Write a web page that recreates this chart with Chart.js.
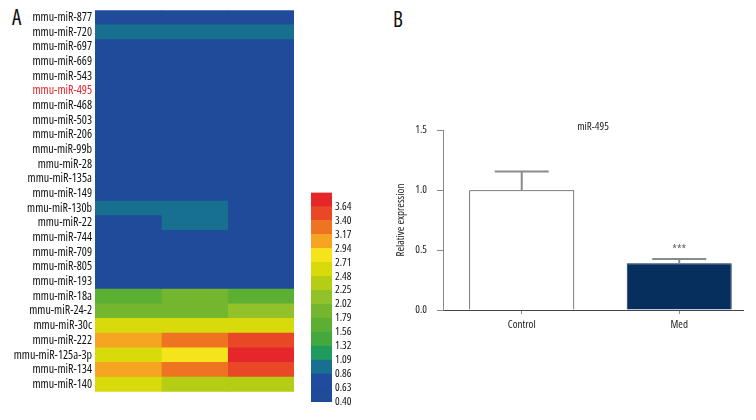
<!DOCTYPE html>
<html>
<head>
<meta charset="utf-8">
<script src="https://cdn.jsdelivr.net/npm/chart.js@4.4.1/dist/chart.umd.min.js"></script>
<style>
  html, body { margin: 0; padding: 0; background: #fff; overflow: hidden; }
  body { width: 756px; height: 420px; position: relative; font-family: 'Open Sans', sans-serif; font-stretch: condensed; }
  .panel { position: absolute; font-size: 21px; color: #111; }
  canvas { position: absolute; }
</style>
</head>
<body>
<div class="panel" style="left:12px; top:3px;">A</div>
<div class="panel" style="left:393px; top:5px;">B</div>
<canvas id="heat" width="294" height="402" style="left:0; top:0;"></canvas>
<canvas id="scale" width="60" height="229" style="left:311px; top:183px;"></canvas>
<canvas id="bars" width="376" height="240" style="left:380px; top:100px;"></canvas>
<script>
// heatmap rows (top to bottom)
const mirNames = ['mmu-miR-877', 'mmu-miR-720', 'mmu-miR-697', 'mmu-miR-669', 'mmu-miR-543',
  'mmu-miR-495', 'mmu-miR-468', 'mmu-miR-503', 'mmu-miR-206', 'mmu-miR-99b', 'mmu-miR-28',
  'mmu-miR-135a', 'mmu-miR-149', 'mmu-miR-130b', 'mmu-miR-22', 'mmu-miR-744', 'mmu-miR-709',
  'mmu-miR-805', 'mmu-miR-193', 'mmu-miR-18a', 'mmu-miR-24-2', 'mmu-miR-30c', 'mmu-miR-222',
  'mmu-miR-125a-3p', 'mmu-miR-134', 'mmu-miR-140'];
const highlightMir = 'mmu-miR-495';

// expression per sample column
const sample1 = [0.50, 0.95, 0.50, 0.50, 0.50, 0.50, 0.50, 0.50, 0.50, 0.55, 0.50, 0.50, 0.50,
  0.95, 0.50, 0.50, 0.50, 0.50, 0.50, 1.65, 1.85, 2.55, 3.00, 2.55, 3.00, 2.55];
const sample2 = [0.50, 0.95, 0.50, 0.50, 0.50, 0.50, 0.50, 0.50, 0.50, 0.50, 0.50, 0.50, 0.50,
  0.95, 0.95, 0.50, 0.50, 0.50, 0.50, 1.85, 1.85, 2.55, 3.25, 2.80, 3.25, 2.35];
const sample3 = [0.50, 0.95, 0.50, 0.50, 0.50, 0.50, 0.50, 0.50, 0.55, 0.50, 0.50, 0.50, 0.50,
  0.50, 0.50, 0.50, 0.50, 0.55, 0.50, 1.65, 2.10, 2.55, 3.50, 3.70, 3.50, 2.35];

// colour key, bottom to top
const keyLabels = ['0.40', '0.63', '0.86', '1.09', '1.32', '1.56', '1.79', '2.02', '2.25',
  '2.48', '2.71', '2.94', '3.17', '3.40', '3.64'];
const keyColors = ['#204a9a', '#1f4c9c', '#17708f', '#209b5e', '#44a83c', '#5bb034', '#74b72f',
  '#92c22a', '#b5cd14', '#d8da0c', '#f6e41a', '#f5a521', '#ee7421', '#ea4726', '#e5262a'];

// panel B
const groups = ['Control', 'Med'];
const relExpr = [1.00, 0.39];
const relSem = [0.155, 0.035];
const sigMarks = ['', '***'];

function colorFor(v) {
    var idx = 0;
    for (var i = 0; i < keyLabels.length; i++) {
        if (v >= parseFloat(keyLabels[i])) idx = i;
    }
    return keyColors[idx];
}

// 'condensed' goes in the weight slot so the canvas picks the condensed Open Sans face
Chart.defaults.font.family = "'Open Sans', sans-serif";
Chart.defaults.font.weight = 'condensed';
Chart.defaults.color = '#222';
Chart.defaults.animation = false;

// --- heatmap ---
new Chart(document.getElementById('heat'), {
    type: 'bar',
    data: {
        labels: mirNames,
        datasets: [sample1, sample2, sample3].map(col => ({
            data: col.map(() => 1),
            backgroundColor: col.map(colorFor),
            borderWidth: 0,
            barPercentage: 1,
            categoryPercentage: 1
        }))
    },
    options: {
        responsive: false,
        indexAxis: 'y',
        layout: { padding: { top: 10 } },
        plugins: { legend: { display: false }, tooltip: { enabled: false } },
        scales: {
            x: { display: false, stacked: true, min: 0, max: 3 },
            y: {
                stacked: true,
                grid: { display: false, drawTicks: false },
                border: { display: false },
                ticks: {
                    padding: 3,
                    autoSkip: false,
                    font: { size: 12 },
                    color: ctx => mirNames[ctx.index] === highlightMir ? '#e0262b' : '#111'
                },
                afterFit: scale => { scale.width = 95; }
            }
        }
    }
});

// --- colour key ---
new Chart(document.getElementById('scale'), {
    type: 'bar',
    data: {
        labels: [''],
        datasets: keyColors.map(c => ({
            data: [1],
            backgroundColor: c,
            borderWidth: 0,
            barPercentage: 1,
            categoryPercentage: 1
        }))
    },
    options: {
        responsive: false,
        layout: { padding: { top: 6, bottom: 10 } },
        plugins: { legend: { display: false }, tooltip: { enabled: false } },
        scales: {
            x: { display: false, stacked: true },
            y: {
                position: 'right',
                stacked: true,
                min: 0,
                max: keyLabels.length,
                grid: { display: false, drawTicks: false },
                border: { display: false },
                afterBuildTicks: scale => {
                    scale.ticks = keyLabels.map((_, i) => ({ value: i }));
                },
                ticks: {
                    padding: 3,
                    autoSkip: false,
                    font: { size: 11 },
                    color: '#111',
                    callback: v => keyLabels[v]
                },
                afterFit: scale => { scale.width = 39; }
            }
        }
    }
});

// --- relative expression bars ---
const errorBars = {
    id: 'errorBars',
    afterDatasetsDraw(chart) {
        const ctx = chart.ctx;
        const y = chart.scales.y;
        const meta = chart.getDatasetMeta(0);
        ctx.save();
        meta.data.forEach((bar, i) => {
            const top = y.getPixelForValue(relExpr[i]);
            const tip = y.getPixelForValue(relExpr[i] + relSem[i]);
            ctx.strokeStyle = '#8a8a8a';
            ctx.lineWidth = 2;
            ctx.beginPath();
            ctx.moveTo(bar.x, top);
            ctx.lineTo(bar.x, tip);
            ctx.moveTo(bar.x - 27, tip);
            ctx.lineTo(bar.x + 27, tip);
            ctx.stroke();
            if (sigMarks[i]) {
                ctx.fillStyle = '#666';
                ctx.font = "condensed 12px 'Open Sans', sans-serif";
                ctx.textAlign = 'center';
                ctx.textBaseline = 'middle';
                ctx.fillText(sigMarks[i], bar.x, tip - 8);
            }
        });
        ctx.restore();
    }
};

new Chart(document.getElementById('bars'), {
    type: 'bar',
    data: {
        datasets: [{
            data: groups.map((g, i) => ({ x: i + 0.5, y: relExpr[i] })),
            backgroundColor: ['#ffffff', '#072f5e'],
            borderColor: ['#333333', '#072f5e'],
            borderWidth: 1,
            borderSkipped: 'bottom',
            barPercentage: 0.667,
            categoryPercentage: 1
        }]
    },
    options: {
        responsive: false,
        layout: { padding: { left: 14, right: 13 } },
        plugins: {
            legend: { display: false },
            tooltip: { enabled: false },
            title: {
                display: true,
                fullSize: false,
                text: 'miR-495',
                color: '#222',
                font: { size: 11, weight: 'condensed' },
                padding: { top: 20, bottom: -3 }
            }
        },
        scales: {
            x: {
                type: 'linear',
                offset: false,
                min: 0,
                max: 1.905,
                grid: { offset: false, drawOnChartArea: false, tickLength: 4, color: '#888' },
                border: { color: '#444' },
                afterBuildTicks: scale => {
                    scale.ticks = groups.map((_, i) => ({ value: i + 0.5 }));
                },
                ticks: {
                    padding: 4,
                    font: { size: 11 },
                    color: '#222',
                    callback: v => groups[Math.round(v - 0.5)]
                },
                afterFit: scale => { scale.height = 30; }
            },
            y: {
                min: 0,
                max: 1.5,
                grid: { drawOnChartArea: false, tickLength: 6, color: '#888' },
                border: { color: '#888' },
                ticks: {
                    stepSize: 0.5,
                    padding: 10,
                    font: { size: 11 },
                    color: '#222',
                    callback: v => v.toFixed(1)
                },
                title: {
                    display: true,
                    text: 'Relative expression',
                    color: '#222',
                    font: { size: 11 },
                    padding: 0
                },
                afterFit: scale => { scale.width = 49; }
            }
        }
    },
    plugins: [errorBars]
});
</script>
</body>
</html>
